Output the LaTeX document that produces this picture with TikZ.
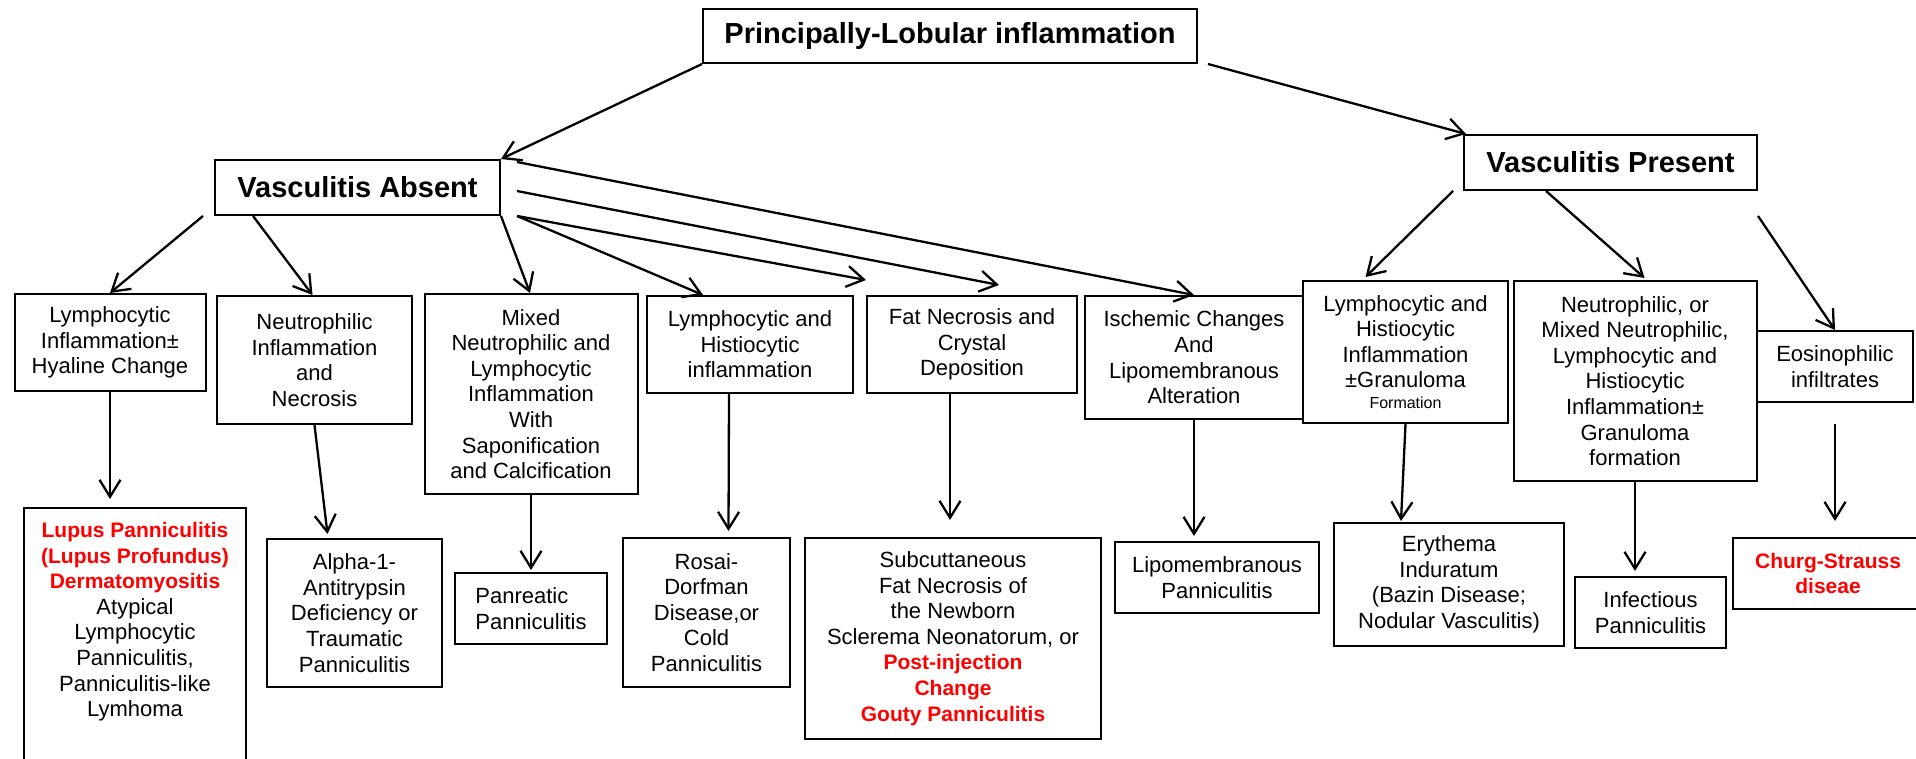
\documentclass[tikz,border=0pt]{standalone}
\usepackage{fontspec}
\setmainfont{Liberation Sans}
\usetikzlibrary{arrows.meta}
\newcommand\redbold[1]{{\color{red}\bfseries\fontsize{21}{25.6}\selectfont #1}}
\begin{document}
\begin{tikzpicture}[x=1pt,y=-1pt,
  box/.style={draw, line width=2pt, inner sep=0pt, align=center, fill=white,
    font=\fontsize{22}{25.6}\selectfont},
  hdr/.style={box, font=\bfseries\fontsize{29}{34}\selectfont},
  arr/.style={line width=2.3pt, -{Straight Barb[length=17pt,width=21pt]}}
]
\clip (0,0) rectangle (1916,759);
\fill[white] (0,0) rectangle (1916,759);

% level 0 and 1
\node[hdr, minimum width=494pt, minimum height=54pt] (T) at (950,36) {Principally-Lobular inflammation};
\node[hdr, minimum width=285pt, minimum height=55pt] (VA) at (357.5,187.5) {Vasculitis Absent};
\node[hdr, minimum width=293pt, minimum height=55pt] (VP) at (1610.5,162.5) {Vasculitis Present};

% level 2
\node[box, minimum width=191pt, minimum height=97pt] (B1) at (110,342.5) {Lymphocytic\\Inflammation±\\Hyaline Change};
\node[box, minimum width=195pt, minimum height=128pt] (B2) at (314.5,360) {Neutrophilic\\Inflammation\\and\\Necrosis};
\node[box, minimum width=213pt, minimum height=200pt] (B3) at (531,394) {Mixed\\Neutrophilic and\\Lymphocytic\\Inflammation\\With\\Saponification\\and Calcification};
\node[box, minimum width=206pt, minimum height=97pt] (B4) at (750,344.5) {Lymphocytic and\\Histiocytic\\inflammation};
\node[box, minimum width=210pt, minimum height=97pt] (B5) at (972,344.5) {Fat Necrosis and\\Crystal\\Deposition};
\node[box, minimum width=218pt, minimum height=123pt] (B6) at (1194,357.5) {Ischemic Changes\\And\\Lipomembranous\\Alteration};
\node[box, minimum width=205pt, minimum height=142pt] (B7) at (1405.5,352) {Lymphocytic and\\Histiocytic\\Inflammation\\±Granuloma\\[-5pt]{\fontsize{16}{20}\selectfont Formation}};
\node[box, minimum width=243pt, minimum height=200pt] (B8) at (1635,381) {Neutrophilic, or\\Mixed Neutrophilic,\\Lymphocytic and\\Histiocytic\\Inflammation±\\Granuloma\\formation};
\node[box, minimum width=156pt, minimum height=71pt] (B9) at (1835,366.5) {Eosinophilic\\infiltrates};

% level 3
\node[box, minimum width=222pt, minimum height=292pt] (C1) at (135,654) {};
\node[anchor=north, inner sep=0pt, align=center, font=\fontsize{22}{25.6}\selectfont] (C1t) at (135,522)
  {\redbold{Lupus Panniculitis}\\\redbold{(Lupus Profundus)}\\\redbold{Dermatomyositis}\\Atypical\\Lymphocytic\\Panniculitis,\\Panniculitis-like\\Lymhoma};
\node[box, minimum width=175pt, minimum height=148pt] (C2) at (354.5,613) {Alpha-1-\\Antitrypsin\\Deficiency or\\Traumatic\\Panniculitis};
\node[box, minimum width=152pt, minimum height=71pt, align=left] (C3) at (531,608.5) {Panreatic\\Panniculitis};
\node[box, minimum width=167pt, minimum height=149pt] (C4) at (706.5,612.5) {Rosai-\\Dorfman\\Disease,or\\Cold\\Panniculitis};
\node[box, minimum width=296pt, minimum height=201pt] (C5) at (953,638.5) {Subcuttaneous\\Fat Necrosis of\\the Newborn\\Sclerema Neonatorum, or\\\redbold{Post-injection}\\\redbold{Change}\\\redbold{Gouty Panniculitis}};
\node[box, minimum width=204pt, minimum height=71pt] (C6) at (1217,577.5) {Lipomembranous\\Panniculitis};
\node[box, minimum width=230pt, minimum height=123pt] (C7) at (1449,584.5) {Erythema\\Induratum\\(Bazin Disease;\\Nodular Vasculitis)};
\node[box, minimum width=151pt, minimum height=71pt] (C8) at (1650.5,612.5) {Infectious\\Panniculitis};
\node[box, minimum width=190pt, minimum height=71pt] (C9) at (1828,573.5) {\redbold{Churg-Strauss}\\\redbold{diseae}};

% connectors from the top
\draw[arr] (T.south west) -- (VA.north east);
\draw[arr] ([xshift=10pt]T.south east) -- ([xshift=3pt]VP.north west);

% Vasculitis Absent
\draw[arr] ([xshift=-11pt]VA.south west) -- (B1.north);
\draw[arr] ([xshift=39pt]VA.south west) -- ([xshift=-2pt]B2.north);
\draw[arr] (VA.south east) -- ([xshift=-1pt]B3.north);
\draw[arr] ([xshift=16pt]VA.south east) -- ([xshift=57pt]B4.north west);
\draw[arr] ([xshift=16pt]VA.south east) -- ([yshift=15pt]B5.north west);
\draw[arr] ([xshift=16pt,yshift=-3.5pt]VA.east) -- ([xshift=133pt,yshift=10pt]B5.north west);
\draw[arr] ([xshift=16pt,yshift=-3pt]VA.north east) -- (B6.north);

% Vasculitis Present
\draw[arr] ([xshift=-10pt]VP.south west) -- ([xshift=-40pt,yshift=3pt]B7.north);
\draw[arr] ([xshift=-64.5pt]VP.south) -- ([xshift=9.5pt,yshift=2pt]B8.north);
\draw[arr] ([yshift=-25pt]VP.south east) -- (B9.north);

% level 2 to level 3
\draw[arr, shorten >=8pt] (B1.south) -- (B1.south |- C1.north);
\draw[arr] (B2.south) -- ([xshift=-27pt,yshift=4pt]C2.north);
\draw[arr] (B3.south) -- ([yshift=2pt]C3.north);
\draw[arr] ([xshift=-21pt]B4.south) -- ([xshift=22pt,yshift=6pt]C4.north);
\draw[arr] ([xshift=-22pt]B5.south) -- ([xshift=-3pt,yshift=17pt]C5.north);
\draw[arr] (B6.south) -- ([xshift=-23pt,yshift=5pt]C6.north);
\draw[arr] (B7.south) -- ([xshift=-48pt,yshift=1pt]C7.north);
\draw[arr] (B8.south) -- ([xshift=-15.5pt,yshift=5pt]C8.north);
\draw[arr] ([yshift=-21pt]B9.south) -- ([xshift=7pt,yshift=16pt]C9.north);
\end{tikzpicture}
\end{document}
